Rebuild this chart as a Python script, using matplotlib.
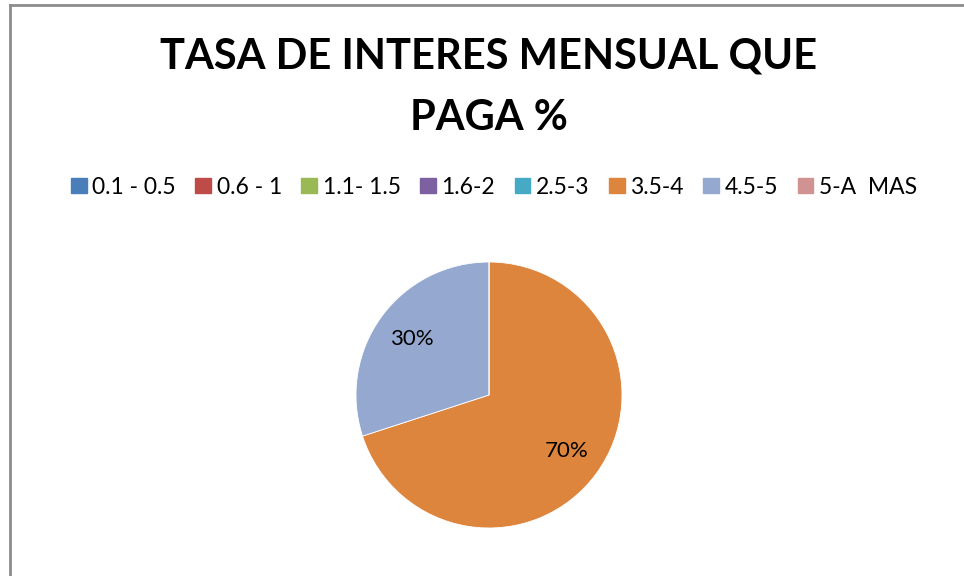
import matplotlib
matplotlib.use("Agg")
from matplotlib import pyplot as plt
from matplotlib.lines import Line2D

# categories and share of answers (percent)
categorias = ['0.1 - 0.5', '0.6 - 1', '1.1- 1.5', '1.6-2', '2.5-3', '3.5-4', '4.5-5', '5-A  MAS']
valores = [0, 0, 0, 0, 0, 70, 30, 0]
colores = ['#4A7EBB', '#BE4B48', '#98B954', '#7D60A0', '#46AAC5', '#DD843D', '#95A9D0', '#D19392']

plt.rcParams['font.family'] = ['Lato', 'DejaVu Sans']

fig = plt.figure(figsize=(9.64, 5.76), dpi=100)

# chart border (Excel frame, cut at right/bottom)
fig.add_artist(Line2D([9.5/964, 9.5/964], [0, 1 - 4.5/576], color='#8c8c8c', lw=2))
fig.add_artist(Line2D([9.5/964, 1], [1 - 4.5/576, 1 - 4.5/576], color='#8c8c8c', lw=2))

fig.text(489/964, 1 - 57/576, 'TASA DE INTERES MENSUAL QUE', ha='center', va='center',
         fontsize=30, fontweight='bold')
fig.text(489/964, 1 - 118/576, 'PAGA %', ha='center', va='center',
         fontsize=30, fontweight='bold')

# pie: centre ~(489,395), radius ~133 px
r = 133
ax = fig.add_axes([(489 - r)/964, 1 - (395 + r)/576, 2*r/964, 2*r/576])


def etiqueta(p):
    return '' if p < 0.5 else '{:.0f}%'.format(p)


wedges, textos, autotextos = ax.pie(valores, colors=colores, startangle=90, counterclock=False,
                                   autopct=etiqueta, pctdistance=0.72,
                                   wedgeprops=dict(edgecolor='white', linewidth=0.6),
                                   textprops=dict(fontsize=16))
ax.set_xlim(-1, 1)
ax.set_ylim(-1, 1)
ax.set_aspect('equal')

handles = [plt.Rectangle((0, 0), 1, 1, color=c) for c in colores]
fig.legend(handles, categorias, loc='center', bbox_to_anchor=(494/964, 1 - 187/576), ncol=8,
           frameon=False, fontsize=16.5, handlelength=0.68, handleheight=0.68,
           handletextpad=0.25, columnspacing=0.85)

plt.savefig('out.png', dpi=100)
